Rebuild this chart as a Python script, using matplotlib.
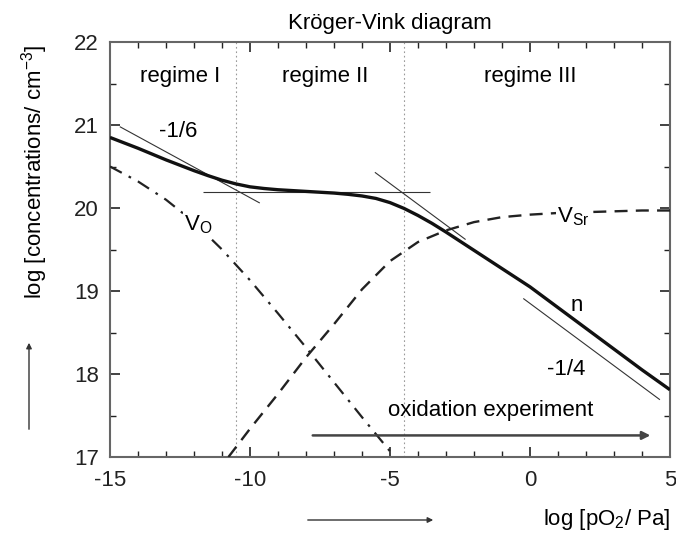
import matplotlib
matplotlib.use("Agg")
import matplotlib.pyplot as plt
from matplotlib.ticker import MultipleLocator

plt.rcParams['font.family'] = ['Liberation Sans', 'DejaVu Sans']
plt.rcParams['mathtext.fontset'] = 'custom'
plt.rcParams['mathtext.rm'] = 'Liberation Sans'
plt.rcParams['mathtext.it'] = 'Liberation Sans'

# log pO2 / Pa positions and log concentrations
pO2_n = [-15, -14, -13, -12, -11.5, -11, -10.5, -10, -9.5, -9, -8, -7, -6.5, -6,
         -5.5, -5, -4.5, -4, -3.5, -3, -2.5, -2, -1, 0, 1, 2, 3, 4, 5]
conc_n = [20.85, 20.72, 20.58, 20.45, 20.39, 20.335, 20.29, 20.255, 20.235, 20.22,
          20.20, 20.18, 20.165, 20.145, 20.115, 20.065, 19.995, 19.91, 19.815, 19.71,
          19.60, 19.49, 19.27, 19.05, 18.80, 18.55, 18.30, 18.05, 17.81]

pO2_VO = [-15, -14, -13, -12, -11, -10, -9, -8, -7, -6, -4.88]
conc_VO = [20.50, 20.32, 20.10, 19.83, 19.50, 19.13, 18.73, 18.32, 17.90, 17.48, 17.02]

pO2_VSr = [-10.77, -10, -9, -8, -7, -6, -5, -4, -3, -2, -1, 0, 1, 2, 3, 4, 5]
conc_VSr = [17.0, 17.34, 17.76, 18.20, 18.60, 19.02, 19.36, 19.59, 19.73, 19.83, 19.89, 19.92, 19.94, 19.95, 19.96, 19.97, 19.97]

# slope guide lines (x pair, y pair)
guide_slope_I = ([-14.65, -9.65], [20.98, 20.06])
guide_flat_II = ([-11.67, -3.57], [20.19, 20.19])
guide_slope_III = ([-5.54, -2.3], [20.43, 19.62])
guide_slope_III_low = ([-0.24, 4.64], [18.91, 17.69])

regime_bounds = [-10.5, -4.5]
regime_labels = ["regime I", "regime II", "regime III"]
regime_label_x = [-12.5, -7.3, 0.0]

oxidation_arrow = (-7.76, 4.3, 17.26)

fig = plt.figure(figsize=(6.76, 5.35), dpi=100)
ax = fig.add_axes([110 / 676, 1 - 457 / 535, 560 / 676, 415 / 535])

FS = 16
thin = dict(color="#333333", lw=0.8, solid_capstyle="butt")

for xb in regime_bounds:
    ax.axvline(xb, color="#999999", lw=0.8, ls=(0, (1.5, 2.5)), zorder=1)

ax.plot(*guide_slope_I, **thin, zorder=2)
ax.plot(*guide_flat_II, **thin, zorder=2)
ax.plot(*guide_slope_III, **thin, zorder=2)
ax.plot(*guide_slope_III_low, **thin, zorder=2)

ax.plot(pO2_VO, conc_VO, color="#222222", lw=1.6, ls=(0, (6, 3.5, 1.2, 3.5)), zorder=3)
ax.plot(pO2_VSr, conc_VSr, color="#222222", lw=1.7, ls=(0, (5.5, 3.5)), zorder=3)
ax.plot(pO2_n, conc_n, color="#111111", lw=2.4, solid_capstyle="butt",
        solid_joinstyle="round", zorder=4)

lbl_box = dict(facecolor="white", edgecolor="none", pad=1.0)
ax.text(-11.85, 19.80, r"V$_\mathrm{O}$", fontsize=FS, ha="center", va="center",
        bbox=lbl_box, zorder=5)
ax.text(1.55, 19.90, r"V$_\mathrm{Sr}$", fontsize=FS, ha="center", va="center",
        bbox=lbl_box, zorder=5)
ax.text(-12.57, 20.92, "-1/6", fontsize=FS, ha="center", va="center")
ax.text(1.67, 18.83, "n", fontsize=FS, ha="center", va="center")
ax.text(1.3, 18.05, "-1/4", fontsize=FS, ha="center", va="center")

for lab, xl in zip(regime_labels, regime_label_x):
    ax.text(xl, 21.58, lab, fontsize=FS, ha="center", va="center")

x0, x1, ya = oxidation_arrow
ax.annotate("", xy=(x1, ya), xytext=(x0, ya),
            arrowprops=dict(arrowstyle="-|>", color="#444444", lw=1.8,
                            mutation_scale=12, shrinkA=0, shrinkB=0))
ax.text(-1.39, 17.56, "oxidation experiment", fontsize=FS, ha="center", va="center")

ax.set_xlim(-15, 5)
ax.set_ylim(17, 22)
ax.xaxis.set_major_locator(MultipleLocator(5))
ax.xaxis.set_minor_locator(MultipleLocator(1))
ax.yaxis.set_major_locator(MultipleLocator(1))
ax.yaxis.set_minor_locator(MultipleLocator(0.5))
ax.tick_params(which="both", direction="in", top=True, right=True,
               labelsize=FS, colors="#222222")
ax.tick_params(which="major", length=7, width=1.2)
ax.tick_params(which="minor", length=4, width=1.0)
ax.tick_params(axis="x", pad=9)
ax.tick_params(axis="y", pad=8)
ax.set_xticks([-15, -10, -5, 0, 5])
ax.set_xticklabels(["-15", "-10", "-5", "0", "5"])
ax.set_yticks([17, 18, 19, 20, 21, 22])
for sp in ax.spines.values():
    sp.set_color("#666666")
    sp.set_linewidth(1.5)

ax.set_title("Kröger-Vink diagram", fontsize=FS, pad=9)

# axis captions with direction arrows
fig.text(670 / 676, 1 - 520 / 535, r"log [pO$_2$/ Pa]", fontsize=FS, ha="right", va="center")
fig.text(35 / 676, 1 - 172 / 535, r"log [concentrations/ cm$^{-3}$]", fontsize=FS,
         rotation=90, ha="center", va="center")
fig.patches.append(matplotlib.patches.FancyArrowPatch(
    (305 / 676, 1 - 520 / 535), (436 / 676, 1 - 520 / 535), transform=fig.transFigure,
    arrowstyle="-|>", mutation_scale=8, color="#333333", lw=1.0))
fig.patches.append(matplotlib.patches.FancyArrowPatch(
    (29 / 676, 1 - 432 / 535), (29 / 676, 1 - 340 / 535), transform=fig.transFigure,
    arrowstyle="-|>", mutation_scale=8, color="#333333", lw=1.0))

fig.savefig("out.png", dpi=100)
